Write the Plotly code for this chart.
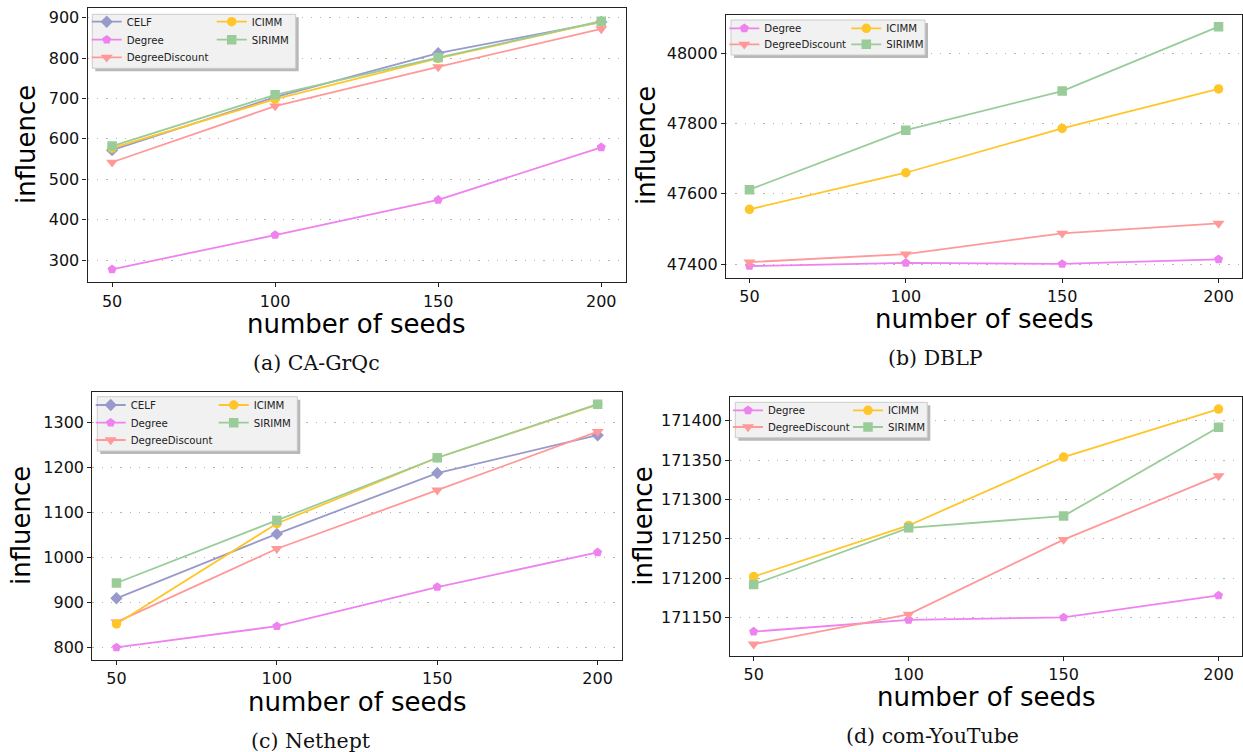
import plotly.graph_objects as go

W, H = 1243, 752

seeds = [50, 100, 150, 200]

# (a) CA-GrQc
ca_celf = [572, 703, 812, 889]
ca_degree = [277, 362, 449, 579]
ca_degdisc = [542, 681, 778, 872]
ca_icimm = [577, 698, 799, 890]
ca_sirimm = [582, 709, 801, 891]

# (b) DBLP
dblp_degree = [47395, 47404, 47401, 47414]
dblp_degdisc = [47406, 47429, 47488, 47516]
dblp_icimm = [47556, 47660, 47786, 47898]
dblp_sirimm = [47612, 47781, 47892, 48075]

# (c) Nethept
net_celf = [910, 1053, 1188, 1272]
net_degree = [801, 848, 935, 1012]
net_degdisc = [857, 1020, 1150, 1280]
net_icimm = [853, 1076, 1222, 1340]
net_sirimm = [944, 1083, 1222, 1341]

# (d) com-YouTube
yt_degree = [171132, 171147, 171150, 171178]
yt_degdisc = [171116, 171154, 171249, 171330]
yt_icimm = [171202, 171267, 171354, 171415]
yt_sirimm = [171192, 171264, 171279, 171392]

captions = ["(a) CA-GrQc", "(b) DBLP", "(c) Nethept", "(d) com-YouTube"]
x_title = "number of seeds"
y_title = "influence"

STYLE = {
    "CELF": dict(color="#9999cc", symbol="diamond", size=9.5),
    "Degree": dict(color="#ee82ee", symbol="pentagon", size=9.5),
    "DegreeDiscount": dict(color="#ff9999", symbol="triangle-down", size=10.5),
    "ICIMM": dict(color="#ffc629", symbol="circle", size=9.5),
    "SIRIMM": dict(color="#99cc99", symbol="square", size=9.5),
}


def px_x(p):
    return p / W


def px_y(p):
    return 1 - p / H


panels = [
    dict(series=[("CELF", ca_celf), ("Degree", ca_degree), ("DegreeDiscount", ca_degdisc),
                 ("ICIMM", ca_icimm), ("SIRIMM", ca_sirimm)],
         dom_x=(87.6, 625.7), dom_y=(8.3, 282.3), yr=(245, 923), dtick=100,
         rows=[21.7, 39.7, 57.3], text_x=126.7, ew=80,
         box=(92.3, 295.7, 14.3, 68.3),
         ylab=(26, 145), xlab=(356.7, 324), cap=(316.7, 363)),
    dict(series=[("Degree", dblp_degree), ("DegreeDiscount", dblp_degdisc),
                 ("ICIMM", dblp_icimm), ("SIRIMM", dblp_sirimm)],
         dom_x=(726, 1242), dom_y=(14.7, 278), yr=(47361, 48109), dtick=200,
         rows=[28.3, 44.3], text_x=764.3, ew=77,
         box=(731, 925, 20, 55),
         ylab=(646, 146), xlab=(984, 319), cap=(936, 358)),
    dict(series=[("CELF", net_celf), ("Degree", net_degree), ("DegreeDiscount", net_degdisc),
                 ("ICIMM", net_icimm), ("SIRIMM", net_sirimm)],
         dom_x=(92.4, 621.7), dom_y=(392, 660), yr=(773, 1368), dtick=100,
         rows=[405, 422.7, 440], text_x=130.7, ew=78,
         box=(97.3, 297.3, 396.7, 451),
         ylab=(21, 526), xlab=(357, 701.7), cap=(311, 741)),
    dict(series=[("Degree", yt_degree), ("DegreeDiscount", yt_degdisc),
                 ("ICIMM", yt_icimm), ("SIRIMM", yt_sirimm)],
         dom_x=(730.4, 1241.8), dom_y=(397.3, 656), yr=(171101, 171430), dtick=50,
         rows=[410.3, 427], text_x=768, ew=75,
         box=(735.3, 927.3, 402.3, 437.7),
         ylab=(643, 526.7), xlab=(986, 696.7), cap=(932, 736)),
]

fig = go.Figure()
layout = dict(width=W, height=H, margin=dict(l=0, r=0, t=0, b=0),
              paper_bgcolor="white", plot_bgcolor="white", showlegend=True)
shapes = []
annotations = []
legend_counter = 0

for i, p in enumerate(panels):
    n = i + 1
    xa = "x" if n == 1 else f"x{n}"
    ya = "y" if n == 1 else f"y{n}"
    xkey = "xaxis" if n == 1 else f"xaxis{n}"
    ykey = "yaxis" if n == 1 else f"yaxis{n}"

    names = [s[0] for s in p["series"]]
    left_col = [nm for nm in names if nm in ("CELF", "Degree", "DegreeDiscount")]
    right_col = [nm for nm in names if nm in ("ICIMM", "SIRIMM")]
    row_of = {}
    legend_ids = []
    for r in range(len(p["rows"])):
        legend_counter += 1
        lid = "legend" if legend_counter == 1 else f"legend{legend_counter}"
        legend_ids.append(lid)
    for r, nm in enumerate(left_col):
        row_of[nm] = r
    for r, nm in enumerate(right_col):
        row_of[nm] = r
    row_count = [0] * len(p["rows"])
    for nm in names:
        row_count[row_of[nm]] += 1

    for nm, vals in p["series"]:
        st = STYLE[nm]
        fig.add_trace(go.Scatter(
            x=seeds, y=vals, name=nm, mode="lines+markers",
            xaxis=xa, yaxis=ya, legend=legend_ids[row_of[nm]],
            line=dict(color=st["color"], width=1.8),
            marker=dict(color=st["color"], symbol=st["symbol"], size=st["size"],
                        line=dict(width=0)),
        ))

    for r, lid in enumerate(legend_ids):
        ew = p["ew"] if row_count[r] > 1 else 140
        layout[lid] = dict(
            orientation="h", x=px_x(p["text_x"] - 40), y=px_y(p["rows"][r] - 14.5),
            xanchor="left", yanchor="top", xref="paper", yref="paper",
            entrywidth=ew, entrywidthmode="pixels",
            bgcolor="rgba(0,0,0,0)", borderwidth=0,
            font=dict(family="DejaVu Sans", size=10.2, color="#222222"),
            traceorder="normal",
        )

    axis_common = dict(showline=True, linecolor="#222222", linewidth=1.3, mirror=True,
                       ticks="outside", ticklen=4, tickwidth=1.2, tickcolor="#222222",
                       tickfont=dict(family="DejaVu Sans", size=16, color="#111111"),
                       zeroline=False)
    layout[xkey] = dict(axis_common, domain=[px_x(p["dom_x"][0]), px_x(p["dom_x"][1])],
                        range=[42.5, 207.5], tickmode="array", tickvals=seeds,
                        showgrid=False, anchor=ya)
    layout[ykey] = dict(axis_common, domain=[px_y(p["dom_y"][1]), px_y(p["dom_y"][0])],
                        range=list(p["yr"]), dtick=p["dtick"], tick0=0, tickformat="d",
                        showgrid=True, gridcolor="#b3b3b3", gridwidth=1.3,
                        griddash="1.3px,8px", anchor=xa)

    bx0, bx1, by0, by1 = p["box"]
    shapes.append(dict(type="rect", xref="paper", yref="paper", layer="above",
                       x0=px_x(bx0 + 3), x1=px_x(bx1 + 3), y0=px_y(by1 + 3), y1=px_y(by0 + 3),
                       fillcolor="#b8b8b8", line=dict(width=0)))
    shapes.append(dict(type="rect", xref="paper", yref="paper", layer="above",
                       x0=px_x(bx0), x1=px_x(bx1), y0=px_y(by1), y1=px_y(by0),
                       fillcolor="#f1f1f1", line=dict(color="#cccccc", width=1)))

    annotations.append(dict(text=y_title, xref="paper", yref="paper",
                            x=px_x(p["ylab"][0]), y=px_y(p["ylab"][1]),
                            xanchor="center", yanchor="middle", textangle=-90, showarrow=False,
                            font=dict(family="DejaVu Sans", size=26, color="#000000")))
    annotations.append(dict(text=x_title, xref="paper", yref="paper",
                            x=px_x(p["xlab"][0]), y=px_y(p["xlab"][1]),
                            xanchor="center", yanchor="middle", showarrow=False,
                            font=dict(family="DejaVu Sans", size=26, color="#000000")))
    annotations.append(dict(text=captions[i], xref="paper", yref="paper",
                            x=px_x(p["cap"][0]), y=px_y(p["cap"][1]),
                            xanchor="center", yanchor="middle", showarrow=False,
                            font=dict(family="DejaVu Serif", size=20.5, color="#111111")))

layout["shapes"] = shapes
layout["annotations"] = annotations
fig.update_layout(**layout)
fig.write_html("out.html")
